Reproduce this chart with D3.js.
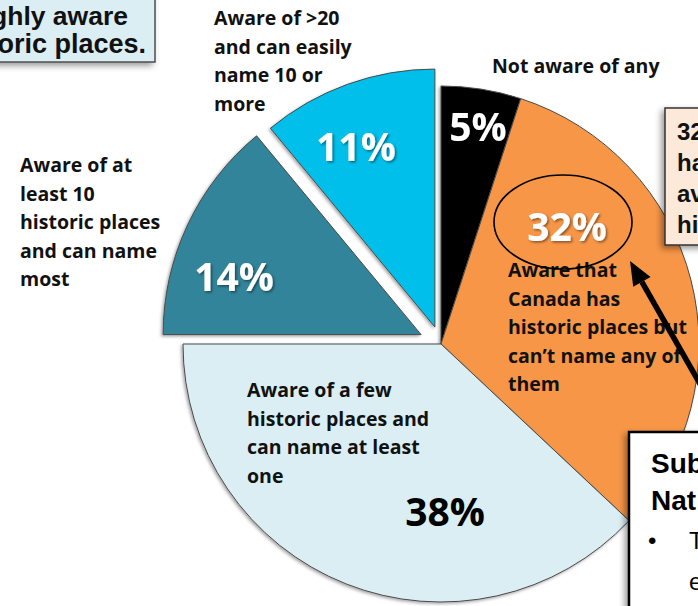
<!DOCTYPE html>
<html>
<head>
<meta charset="utf-8">
<script src="https://cdn.jsdelivr.net/npm/d3@7/dist/d3.min.js"></script>
<style>
  html, body { margin: 0; padding: 0; background: #ffffff; }
  svg { display: block; }
</style>
</head>
<body>
<svg id="chart" width="698" height="606"></svg>
<script>
// Awareness of historic places: share of respondents per group (clockwise from 12 o'clock)
const categories = [
  "Not aware of any",
  "Aware that Canada has historic places but can’t name any of them",
  "Aware of a few historic places and can name at least one",
  "Aware of at least 10 historic places and can name most",
  "Aware of >20 and can easily name 10 or more"
];
const shares = [5, 32, 38, 14, 11];
const labelLines = [
  ["Not aware of any"],
  ["Aware that", "Canada has", "historic places but", "can’t name any of", "them"],
  ["Aware of a few", "historic places and", "can name at least", "one"],
  ["Aware of at", "least 10", "historic places", "and can name", "most"],
  ["Aware of >20", "and can easily", "name 10 or", "more"]
];

// styling / layout
const colors = ["#000000", "#f79646", "#daeef3", "#31849b", "#00bfea"];
const pctColors = ["#ffffff", "#ffffff", "#000000", "#ffffff", "#ffffff"];
const explode = [0, 0, 0, 22, 18];
const pctOffset = [[37, -203], [126, -103], [4, 182], [-187, -44], [-79, -166]];
const textAnchorPos = [[492, 73], [508, 277], [247, 397], [20, 172], [214, 25]];

const svg = d3.select("#chart");
const cx = 441, cy = 344, R = 258;

const defs = svg.append("defs");
const sh = defs.append("filter").attr("id", "sliceShadow")
  .attr("x", "-10%").attr("y", "-10%").attr("width", "120%").attr("height", "120%");
sh.append("feDropShadow").attr("dx", -1.5).attr("dy", 1.5).attr("stdDeviation", 1.5)
  .attr("flood-color", "#000").attr("flood-opacity", 0.35);
const ts = defs.append("filter").attr("id", "textShadow")
  .attr("x", "-20%").attr("y", "-20%").attr("width", "140%").attr("height", "140%");
ts.append("feDropShadow").attr("dx", 1.5).attr("dy", 1.5).attr("stdDeviation", 1)
  .attr("flood-color", "#000").attr("flood-opacity", 0.45);
const bs = defs.append("filter").attr("id", "boxShadow")
  .attr("x", "-30%").attr("y", "-30%").attr("width", "160%").attr("height", "160%");
bs.append("feDropShadow").attr("dx", -3).attr("dy", 3).attr("stdDeviation", 3)
  .attr("flood-color", "#000").attr("flood-opacity", 0.4);

const pie = d3.pie().sort(null).value(d => d)(shares);
const arc = d3.arc().innerRadius(0).outerRadius(R);

const slices = svg.append("g").attr("transform", `translate(${cx},${cy})`);
slices.selectAll("path").data(pie).join("path")
  .attr("transform", (d, i) => {
    const a = (d.startAngle + d.endAngle) / 2;
    return `translate(${Math.sin(a) * explode[i]},${-Math.cos(a) * explode[i]})`;
  })
  .attr("d", arc)
  .attr("fill", (d, i) => colors[i])
  .attr("stroke", "#4a4a4a")
  .attr("stroke-width", 1)
  .attr("filter", "url(#sliceShadow)");

// percentage labels
slices.selectAll("text.pct").data(pie).join("text")
  .attr("class", "pct")
  .attr("x", (d, i) => {
    const a = (d.startAngle + d.endAngle) / 2;
    return Math.sin(a) * explode[i] + pctOffset[i][0];
  })
  .attr("y", (d, i) => {
    const a = (d.startAngle + d.endAngle) / 2;
    return -Math.cos(a) * explode[i] + pctOffset[i][1];
  })
  .attr("text-anchor", "middle")
  .attr("font-family", "'Open Sans', sans-serif")
  .attr("font-weight", 700)
  .attr("font-size", 39)
  .attr("fill", (d, i) => pctColors[i])
  .attr("filter", (d, i) => pctColors[i] === "#ffffff" ? "url(#textShadow)" : null)
  .text(d => d.data + "%");

// category labels
const cat = svg.append("g")
  .attr("font-family", "'Open Sans', sans-serif")
  .attr("font-weight", 700)
  .attr("font-size", 19.5)
  .attr("fill", "#111");
labelLines.forEach((lines, i) => {
  const t = cat.append("text").attr("x", textAnchorPos[i][0]).attr("y", textAnchorPos[i][1]);
  lines.forEach((ln, j) => {
    t.append("tspan").attr("x", textAnchorPos[i][0]).attr("dy", j === 0 ? 0 : 28.5).text(ln);
  });
});

// highlight ring round the 32% figure
svg.append("ellipse")
  .attr("cx", 563).attr("cy", 222).attr("rx", 69).attr("ry", 47)
  .attr("fill", "none").attr("stroke", "#000").attr("stroke-width", 1.6);

// pointer arrow
const tail = [716, 412], tip = [630, 261];
const ang = Math.atan2(tip[1] - tail[1], tip[0] - tail[0]);
const headLen = 24, headW = 10;
const base = [tip[0] - Math.cos(ang) * headLen, tip[1] - Math.sin(ang) * headLen];
svg.append("line")
  .attr("x1", tail[0]).attr("y1", tail[1]).attr("x2", base[0]).attr("y2", base[1])
  .attr("stroke", "#000").attr("stroke-width", 5.5);
svg.append("polygon")
  .attr("points", [
    tip,
    [base[0] + Math.sin(ang) * headW, base[1] - Math.cos(ang) * headW],
    [base[0] - Math.sin(ang) * headW, base[1] + Math.cos(ang) * headW]
  ].map(p => p.join(",")).join(" "))
  .attr("fill", "#000");

// callout boxes
const boxFont = "'Liberation Sans', Arial, sans-serif";

const tl = svg.append("g");
tl.append("rect").attr("x", -10).attr("y", -10).attr("width", 165).attr("height", 72)
  .attr("fill", "#dbeef4").attr("stroke", "#4d4d4d").attr("stroke-width", 1.5)
  .attr("filter", "url(#boxShadow)");
tl.append("text").attr("x", 128).attr("y", 25).attr("text-anchor", "end")
  .attr("font-family", boxFont).attr("font-weight", 700).attr("font-size", 26.5)
  .attr("fill", "#111").text("ghly aware");
tl.append("text").attr("x", 146).attr("y", 53).attr("text-anchor", "end")
  .attr("font-family", boxFont).attr("font-weight", 700).attr("font-size", 27)
  .attr("fill", "#111").text("oric places.");

const rb = svg.append("g");
rb.append("rect").attr("x", 665).attr("y", 108).attr("width", 60).attr("height", 137)
  .attr("fill", "#fde9d9").attr("stroke", "#333").attr("stroke-width", 1.5)
  .attr("filter", "url(#boxShadow)");
["32", "ha", "av", "hi"].forEach((s, j) => {
  rb.append("text").attr("x", 677).attr("y", 140 + j * 31)
    .attr("font-family", boxFont).attr("font-weight", 700).attr("font-size", 24)
    .attr("fill", "#111").text(s);
});

const bb = svg.append("g");
bb.append("rect").attr("x", 629).attr("y", 432).attr("width", 100).attr("height", 200)
  .attr("fill", "#ffffff").attr("stroke", "#000").attr("stroke-width", 2.5)
  .attr("filter", "url(#boxShadow)");
bb.append("text").attr("x", 651).attr("y", 473)
  .attr("font-family", boxFont).attr("font-weight", 700).attr("font-size", 28)
  .attr("fill", "#000").text("Sub");
bb.append("text").attr("x", 651).attr("y", 510)
  .attr("font-family", boxFont).attr("font-weight", 700).attr("font-size", 28)
  .attr("fill", "#000").text("Nat");
bb.append("text").attr("x", 648).attr("y", 549)
  .attr("font-family", boxFont).attr("font-size", 24).attr("fill", "#000").text("•");
bb.append("text").attr("x", 689).attr("y", 549)
  .attr("font-family", boxFont).attr("font-size", 24).attr("fill", "#000").text("T");
bb.append("text").attr("x", 689).attr("y", 590)
  .attr("font-family", boxFont).attr("font-size", 24).attr("fill", "#000").text("e");
</script>
</body>
</html>
